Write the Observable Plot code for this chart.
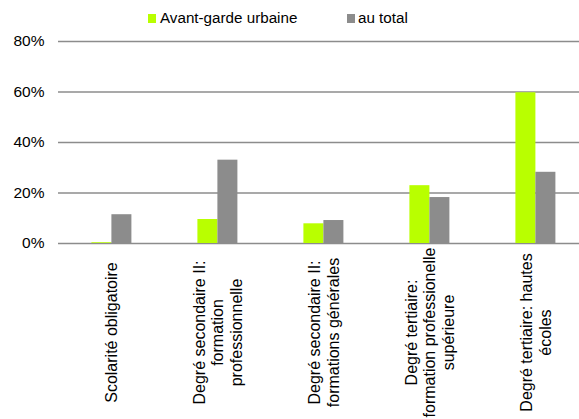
<!DOCTYPE html>
<html>
<head>
<meta charset="utf-8">
<script src="https://cdn.jsdelivr.net/npm/d3@7"></script>
<script src="https://cdn.jsdelivr.net/npm/@observablehq/plot@0.6"></script>
<style>
  html, body { margin: 0; padding: 0; background: #fff; overflow: hidden; width: 579px; height: 419px; }
  #legend { position: relative; height: 30px; font-family: "Liberation Sans", Arial, sans-serif; font-size: 15.2px; color: #000; }
  #legend .sw { position: absolute; top: 14px; width: 8px; height: 9px; }
  #legend .lb { position: absolute; top: 9px; line-height: 17px; white-space: nowrap; }
</style>
</head>
<body>
<div id="legend"></div>
<div id="chart"></div>
<script>
const categories = [
  "Scolarité obligatoire",
  "Degré secondaire II:\nformation\nprofessionnelle",
  "Degré secondaire II:\nformations générales",
  "Degré tertiaire:\nformation professionelle\nsupérieure",
  "Degré tertiaire: hautes\nécoles"
];
const seriesNames = ["Avant-garde urbaine", "au total"];
const avantGarde = [0.3, 9.5, 7.8, 22.9, 59.7];
const auTotal = [11.4, 33.0, 9.1, 18.2, 28.2];
const yTicks = [0, 20, 40, 60, 80];
const colors = ["#b9ff00", "#8c8c8c"];

const data = [];
categories.forEach((c, i) => {
  data.push({category: c, series: seriesNames[0], value: avantGarde[i]});
  data.push({category: c, series: seriesNames[1], value: auTotal[i]});
});

// legend
const legend = document.getElementById("legend");
const legendPos = [[148, 160], [347, 358]];
seriesNames.forEach((s, i) => {
  const sw = document.createElement("span");
  sw.className = "sw";
  sw.style.left = legendPos[i][0] + "px";
  sw.style.background = colors[i];
  legend.appendChild(sw);
  const lb = document.createElement("span");
  lb.className = "lb";
  lb.style.left = legendPos[i][1] + "px";
  lb.textContent = s;
  legend.appendChild(lb);
});

const chart = Plot.plot({
  width: 590,
  height: 389,
  marginLeft: 55.6,
  marginRight: 0,
  marginTop: 11,
  marginBottom: 176,
  style: {fontFamily: "'Liberation Sans', Arial, sans-serif", fontSize: "15.5px", color: "#000", maxWidth: "none", background: "#fff"},
  fx: {domain: categories, padding: 0, axis: null},
  x: {domain: seriesNames, paddingInner: 0, paddingOuter: 1.542, axis: null},
  y: {domain: [0, 80], axis: null},
  color: {domain: seriesNames, range: colors},
  facet: {data: data, x: "category"},
  marks: [
    Plot.ruleY(yTicks, {stroke: "#8c8c8c", strokeWidth: 1.6}),
    Plot.barY(data, {fx: "category", x: "series", y: "value", fill: "series"}),
    Plot.axisY({ticks: yTicks, tickFormat: d => d + "%", tickSize: 0, tickPadding: 14, label: null, fill: "#000", fontSize: 15.5}),
    Plot.axisFx({anchor: "bottom", tickSize: 0, tickPadding: 89, tickRotate: -90, textAnchor: "middle", lineAnchor: "middle", lineHeight: 1.15, label: null, fill: "#000", fontSize: 16})
  ]
});
document.getElementById("chart").appendChild(chart);
</script>
</body>
</html>
